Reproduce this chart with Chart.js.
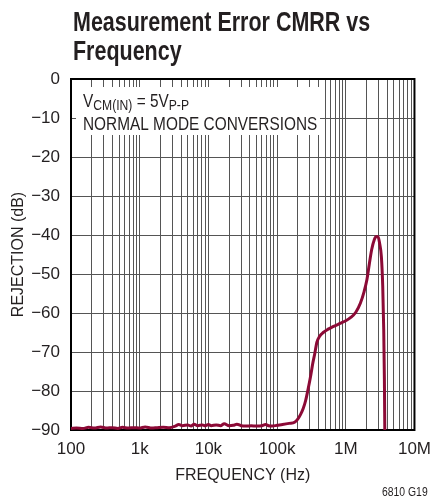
<!DOCTYPE html>
<html>
<head>
<meta charset="utf-8">
<script src="https://cdn.jsdelivr.net/npm/chart.js@4.4.1/dist/chart.umd.min.js"></script>
<style>
  html, body { margin: 0; padding: 0; background: #fff; }
  #wrap { position: relative; width: 440px; height: 502px; overflow: hidden; }
  #title { position: absolute; left: 73px; top: 7px; font: bold 28px "Liberation Sans", Arial, sans-serif; line-height: 29px; color: #231f20; white-space: nowrap; transform: scaleX(0.767); transform-origin: 0 0; }
  #code { position: absolute; left: 382px; top: 484px; font: 13px "Liberation Sans", Arial, sans-serif; color: #231f20; white-space: nowrap; transform: scaleX(0.8); transform-origin: 0 0; }
  canvas { position: absolute; left: 0; top: 0; }
</style>
</head>
<body>
<div id="wrap">
  <canvas id="c" width="440" height="502"></canvas>
  <div id="title">Measurement Error CMRR vs<br>Frequency</div>
  <div id="code">6810 G19</div>
</div>
<script>
const frequencyHz = [100,120,150,180,220,270,330,400,480,560,680,820,1000,1200,1500,1800,2200,2700,3300,3700,4200,5000,5600,6200,7000,8200,9000,10000,11000,13000,15000,17000,20000,23000,26000,30000,36000,42000,50000,60000,68000,75000,85000,100000,120000,150000,180000,200000,220000,240000,260000,283000,309000,330000,353000,380000,415000,470000,546000,650000,845000,1000000,1170000,1400000,1630000,1850000,2030000,2200000,2380000,2600000,2800000,2950000,3100000,3300000,3450000,3570000,3650000,3700000];
const rejectionDb = [-89.6,-89.5,-89.6,-89.3,-89.5,-89.2,-89.5,-89.4,-89.6,-89.3,-89.5,-89.4,-89.5,-89.2,-89.5,-89.4,-89.3,-89.4,-89.0,-88.6,-88.9,-88.7,-89.0,-88.5,-88.9,-88.7,-88.9,-88.6,-88.9,-88.7,-88.9,-88.4,-88.9,-88.8,-88.5,-88.9,-89.0,-88.9,-89.0,-88.9,-88.6,-88.9,-89.0,-88.8,-88.6,-88.3,-88.0,-87.2,-86.0,-84.5,-82.5,-79.5,-76.0,-73.0,-70.5,-67.5,-66.0,-65.0,-64.2,-63.5,-62.6,-62.0,-61.2,-59.8,-57.5,-54.5,-51.5,-47.5,-43.8,-41.2,-40.4,-40.5,-42.0,-45.6,-53.0,-64.4,-77.0,-90.0];
const xTickValues = [100,1000,10000,100000,1000000,10000000];
const xTickLabels = ['100','1k','10k','100k','1M','10M'];
const yTickValues = [0,-10,-20,-30,-40,-50,-60,-70,-80,-90];
const yTickLabels = ['0','\u221210','\u221220','\u221230','\u221240','\u221250','\u221260','\u221270','\u221280','\u221290'];

const FONT = '"Liberation Sans", Arial, sans-serif';
const TXT = '#231f20';

const points = frequencyHz.map((f, i) => ({ x: f, y: rejectionDb[i] }));

const overlay = {
  id: 'overlay',
  beforeDatasetsDraw(chart) {
    const { ctx, chartArea: a } = chart;
    ctx.save();
    // annotation box
    ctx.fillStyle = '#fff';
    ctx.fillRect(a.left + 5, a.top + 8, 244, 48);
    // condensed text
    ctx.save();
    const sx = 0.81;
    ctx.translate(a.left + 12, 0);
    ctx.scale(sx, 1);
    ctx.fillStyle = TXT;
    ctx.textBaseline = 'alphabetic';
    let x = 0;
    const y = a.top + 28;
    const big = '19px ' + FONT, small = '15px ' + FONT;
    ctx.font = big; ctx.fillText('V', x, y); x += ctx.measureText('V').width;
    ctx.font = small; ctx.fillText('CM(IN)', x, y + 3); x += ctx.measureText('CM(IN)').width;
    ctx.font = big; ctx.fillText(' = 5V', x, y); x += ctx.measureText(' = 5V').width;
    ctx.font = small; ctx.fillText('P-P', x, y + 3);
    ctx.font = big;
    ctx.fillText('NORMAL MODE CONVERSIONS', 0, y + 22.5);
    ctx.restore();
    // frame
    ctx.strokeStyle = '#000';
    ctx.lineWidth = 2;
    ctx.strokeRect(a.left, a.top, a.right - a.left, a.bottom - a.top);
    ctx.restore();
  }
};

new Chart(document.getElementById('c'), {
  type: 'scatter',
  data: {
    datasets: [{
      data: points,
      showLine: true,
      borderColor: '#8c0a36',
      borderWidth: 3,
      pointRadius: 0,
      cubicInterpolationMode: 'monotone',
      clip: false
    }]
  },
  options: {
    responsive: false,
    animation: false,
    events: [],
    layout: { padding: { left: 0, right: 18, top: 79, bottom: 0 } },
    plugins: { legend: { display: false }, tooltip: { enabled: false }, title: { display: false } },
    scales: {
      x: {
        type: 'logarithmic',
        min: 100,
        max: 10000000,
        afterFit(s) { s.height = 72; },
        afterBuildTicks(s) {
          const t = [];
          for (let d = 100; d < 10000000; d *= 10) for (let k = 1; k < 10; k++) t.push({ value: d * k });
          t.push({ value: 10000000 });
          s.ticks = t;
        },
        ticks: {
          autoSkip: false,
          maxRotation: 0,
          padding: 9,
          color: TXT,
          font: { family: FONT, size: 17 },
          callback(v) { const i = xTickValues.indexOf(v); return i >= 0 ? xTickLabels[i] : ''; }
        },
        grid: { color: '#555', lineWidth: 1, drawTicks: false },
        border: { display: false },
        title: { display: true, text: 'FREQUENCY (Hz)', color: TXT, font: { family: FONT, size: 16 }, padding: { top: 0, bottom: 17 } }
      },
      y: {
        min: -90,
        max: 0,
        afterFit(s) { s.width = 71; },
        afterBuildTicks(s) { s.ticks = yTickValues.map(v => ({ value: v })); },
        ticks: {
          padding: 11,
          color: TXT,
          font: { family: FONT, size: 17 },
          callback(v) { const i = yTickValues.indexOf(v); return i >= 0 ? yTickLabels[i] : ''; }
        },
        grid: { color: '#555', lineWidth: 1, drawTicks: false },
        border: { display: false },
        title: { display: true, text: 'REJECTION (dB)', color: TXT, font: { family: FONT, size: 16 }, padding: { top: 9, bottom: 0 } }
      }
    }
  },
  plugins: [overlay]
});
</script>
</body>
</html>
